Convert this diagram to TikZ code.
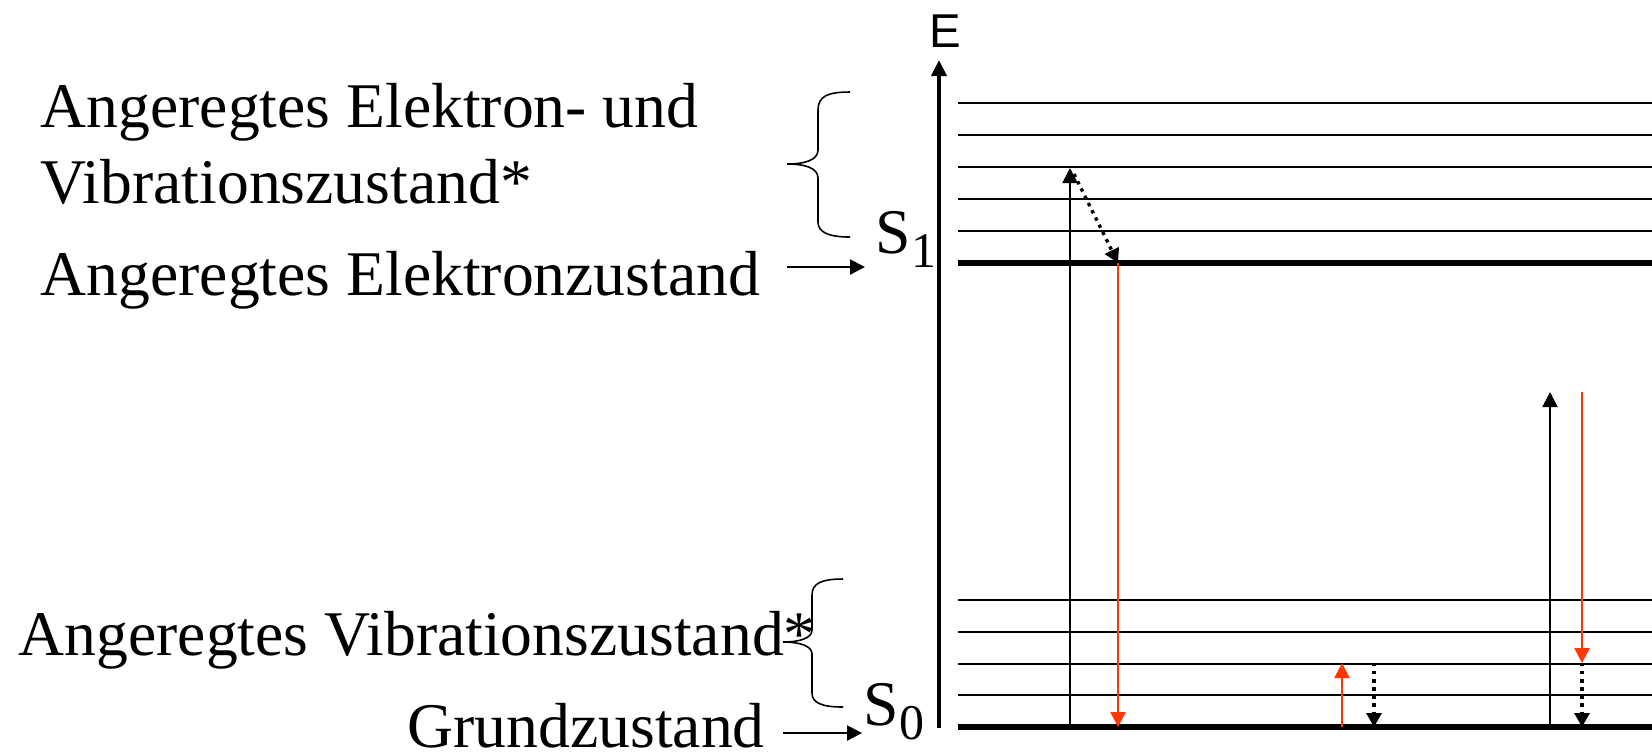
\documentclass[tikz,border=0pt]{standalone}
\usepackage{fontspec}
\setmainfont{Liberation Serif}
\newfontfamily\axisfont{Liberation Sans}
\usepackage{xcolor}
\usepackage{tikz}
\usetikzlibrary{positioning, arrows.meta}
\definecolor{fluor}{RGB}{255,55,0}
\newcommand{\lvsub}[1]{\raisebox{-0.14cm}{\fontsize{14.2pt}{14.2pt}\selectfont #1}}

\begin{document}
\begin{tikzpicture}[
  x=0.01cm, y=-0.01cm,
  lbl/.style={inner sep=0pt, font=\fontsize{18.1pt}{21.6pt}\selectfont, align=left},
  lev/.style={line width=0.5pt},
  gnd/.style={line width=1.7pt},
  brc/.style={line width=0.45pt},
  ax/.style={-{Triangle[length=1.6mm, width=1.5mm]}, line width=1.1pt},
  up/.style={-{Triangle[length=1.5mm, width=1.5mm]}, line width=0.6pt},
  em/.style={-{Triangle[length=1.5mm, width=1.5mm]}, line width=0.7pt, fluor},
  relax/.style={-{Triangle[length=1.4mm, width=1.5mm]}, line width=0.95pt,
                dash pattern=on 0.95pt off 1.35pt}]
\useasboundingbox (0,0) rectangle (1652,753);
\def\xl{958}\def\xr{1652}
% --- labels on the left ---
\node[lbl, anchor=base west] (evib) at (40,203) {Angeregtes Elektron- und\\Vibrationszustand*};
\node[lbl, anchor=base west] (eel) at (40,295) {Angeregtes Elektronzustand};
\node[lbl, anchor=base west] (gvib) at (18,655) {Angeregtes Vibrationszustand*};
\node[lbl, anchor=base west, text depth=0pt] (grund) at (407,747) {Grundzustand};
\node[lbl, anchor=base west] (S1) at (875,253) {S\lvsub{1}};
\node[lbl, anchor=base west] (S0) at (863,725) {S\lvsub{0}};
\coordinate (s1in) at (787,267);
\coordinate (s0in) at (783,733);
\draw[up, shorten >=0.1cm] (s1in) -- (S1.west |- s1in);
\draw[up] (s0in) -- ([xshift=-0.01cm]S0.west |- s0in);
% --- braces ---
\draw[brc] (850,92) .. controls (828,92) and (818,96) .. (818,110) -- (818,150)
  .. controls (818,160) and (805,164) .. (787,164) .. controls (805,164) and (818,168) .. (818,178)
  -- (818,222) .. controls (818,232) and (828,237) .. (850,237);
\draw[brc] (843,579) .. controls (822,579) and (812,583) .. (812,595) -- (812,630)
  .. controls (812,638) and (800,642) .. (783,642) .. controls (800,642) and (812,646) .. (812,654)
  -- (812,693) .. controls (812,703) and (822,707) .. (843,707);
% --- energy axis ---
\coordinate (axbot) at (939,728);
\coordinate (axtop) at (939,60);
\draw[ax] (axbot) -- (axtop);
\node[inner sep=0pt, font=\axisfont\fontsize{13.5pt}{13.5pt}\selectfont] (E) at (945,31) {E};
% --- levels ---
\foreach \y in {103,135,167,199,231,600,632,664,695} \draw[lev] (\xl,\y) -- (\xr,\y);
\foreach \y in {263,727} \draw[gnd] (\xl,\y) -- (\xr,\y);
% --- transitions ---
\coordinate (a0) at (1070,727); \coordinate (a1) at (1070,168);
\coordinate (f1) at (1118,263); \coordinate (f0) at (1118,727);
\coordinate (r0) at (1342,727); \coordinate (r1) at (1342,663);
\coordinate (d1) at (1374,663); \coordinate (d0) at (1374,727);
\coordinate (b0) at (1550,727); \coordinate (b1) at (1550,392);
\coordinate (e1) at (1582,392); \coordinate (e2) at (1582,663); \coordinate (e0) at (1582,727);
\draw[up] (a0) -- (a1);
\draw[relax] ([shift={(4,6)}]a1) -- (f1);
\draw[em] (f1) -- (f0);
\draw[em] (r0) -- (r1);
\draw[relax] (d1) -- (d0);
\draw[up] (b0) -- (b1);
\draw[em] (e1) -- (e2);
\draw[relax] (e2) -- (e0);
\end{tikzpicture}
\end{document}
